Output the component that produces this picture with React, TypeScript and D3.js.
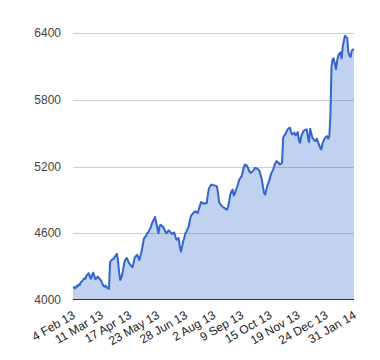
import React, { useEffect, useRef } from "react";
import * as d3 from "d3";

// closing values, one per trading day
const closes: number[] = [
  4110, 4115, 4105, 4125, 4120, 4140, 4135, 4160, 4170, 4180,
  4195, 4190, 4220, 4230, 4240, 4210, 4190, 4225, 4246, 4215,
  4186, 4195, 4210, 4200, 4185, 4175, 4150, 4126, 4120, 4130,
  4110, 4112, 4100, 4340, 4355, 4365, 4370, 4385, 4400, 4415,
  4360, 4250, 4180, 4200, 4240, 4300, 4350, 4370, 4376, 4350,
  4330, 4316, 4305, 4295, 4340, 4385, 4395, 4406, 4385, 4360,
  4400, 4436, 4490, 4550, 4565, 4575, 4600, 4610, 4630, 4650,
  4680, 4706, 4725, 4746, 4700, 4650, 4600, 4660, 4677, 4665,
  4661, 4640, 4620, 4600, 4610, 4625, 4620, 4605, 4595, 4600,
  4607, 4575, 4541, 4550, 4556, 4480, 4436, 4480, 4526, 4560,
  4600, 4616, 4640, 4661, 4720, 4758, 4770, 4782, 4790, 4797,
  4790, 4782, 4820, 4850, 4880, 4875, 4866, 4870, 4868, 4872,
  4950, 5005, 5020, 5038, 5035, 5032, 5030, 5026, 5023, 4960,
  4880, 4862, 4850, 4840, 4830, 4825, 4815, 4812, 4840, 4890,
  4950, 4975, 4993, 4940, 4955, 4990, 5015, 5050, 5083, 5098,
  5113, 5150, 5195, 5218, 5210, 5203, 5180, 5155, 5143, 5150,
  5158, 5170, 5188, 5185, 5179, 5170, 5158, 5120, 5083, 5020,
  4962, 4947, 4990, 5030, 5055, 5090, 5128, 5150, 5170, 5200,
  5230, 5248, 5240, 5233, 5218, 5225, 5233, 5459, 5480, 5489,
  5515, 5534, 5545, 5549, 5510, 5489, 5495, 5504, 5480, 5490,
  5510, 5430, 5414, 5470, 5495, 5515, 5528, 5530, 5534, 5460,
  5419, 5540, 5500, 5459, 5445, 5435, 5429, 5450, 5420, 5395,
  5365, 5353, 5410, 5430, 5455, 5465, 5473, 5450, 5470, 5650,
  6100, 6165, 6172, 6120, 6075, 6150, 6196, 6215, 6226, 6172,
  6280, 6330, 6376, 6365, 6355, 6226, 6195, 6185, 6240, 6250,
  6255,
];

// a label every 25 trading days
const xTickIndex = [0, 25, 50, 75, 100, 125, 150, 175, 200, 225, 250];
const xTickLabels = [
  "4 Feb 13", "11 Mar 13", "17 Apr 13", "23 May 13", "28 Jun 13", "2 Aug 13",
  "9 Sep 13", "15 Oct 13", "19 Nov 13", "24 Dec 13", "31 Jan 14",
];
const yTicks = [4000, 4600, 5200, 5800, 6400];

const AreaChart: React.FC = () => {
  const ref = useRef<SVGSVGElement | null>(null);

  useEffect(() => {
    if (!ref.current) return;
    const svg = d3.select(ref.current);
    svg.selectAll("*").remove();

    const left = 73;
    const right = 354;
    const top = 33;
    const bottom = 300;

    const x = d3.scaleLinear().domain([0, closes.length - 1]).range([left, right]);
    const y = d3.scaleLinear().domain([4000, 6400]).range([bottom, top]);

    const font = "Arial, 'Liberation Sans', sans-serif";

    // gridlines
    svg
      .append("g")
      .selectAll("line")
      .data(yTicks.slice(1))
      .enter()
      .append("line")
      .attr("x1", left)
      .attr("x2", right)
      .attr("y1", (d) => Math.round(y(d)) + 0.5)
      .attr("y2", (d) => Math.round(y(d)) + 0.5)
      .attr("stroke", "#cccccc")
      .attr("stroke-width", 1);

    const area = d3
      .area<number>()
      .x((_, i) => x(i))
      .y0(y(4000))
      .y1((d) => y(d));

    const line = d3
      .line<number>()
      .x((_, i) => x(i))
      .y((d) => y(d));

    svg
      .append("path")
      .datum(closes)
      .attr("d", area)
      .attr("fill", "#3366cc")
      .attr("fill-opacity", 0.3);

    svg
      .append("path")
      .datum(closes)
      .attr("d", line)
      .attr("fill", "none")
      .attr("stroke", "#3366cc")
      .attr("stroke-width", 2)
      .attr("stroke-linejoin", "round");

    // baseline
    svg
      .append("line")
      .attr("x1", left)
      .attr("x2", right)
      .attr("y1", Math.round(y(4000)) - 0.5)
      .attr("y2", Math.round(y(4000)) - 0.5)
      .attr("stroke", "#333333")
      .attr("stroke-width", 1);

    // y labels
    svg
      .append("g")
      .selectAll("text")
      .data(yTicks)
      .enter()
      .append("text")
      .attr("x", 61)
      .attr("y", (d) => y(d))
      .attr("dy", "0.35em")
      .attr("text-anchor", "end")
      .style("font", `12px ${font}`)
      .attr("fill", "#444444")
      .text((d) => d);

    // x labels, slanted
    svg
      .append("g")
      .selectAll("text")
      .data(xTickIndex)
      .enter()
      .append("text")
      .attr("transform", (d) => `translate(${x(d) + 3},${bottom + 17.5}) rotate(-30)`)
      .attr("text-anchor", "end")
      .style("font", `12px ${font}`)
      .attr("fill", "#222222")
      .text((_, i) => xTickLabels[i]);
  }, []);

  return (
    <svg
      ref={ref}
      width={380}
      height={360}
      style={{ position: "absolute", left: 0, top: 0, background: "#fff" }}
    ></svg>
  );
};

export default function App() {
  return <AreaChart />;
}
